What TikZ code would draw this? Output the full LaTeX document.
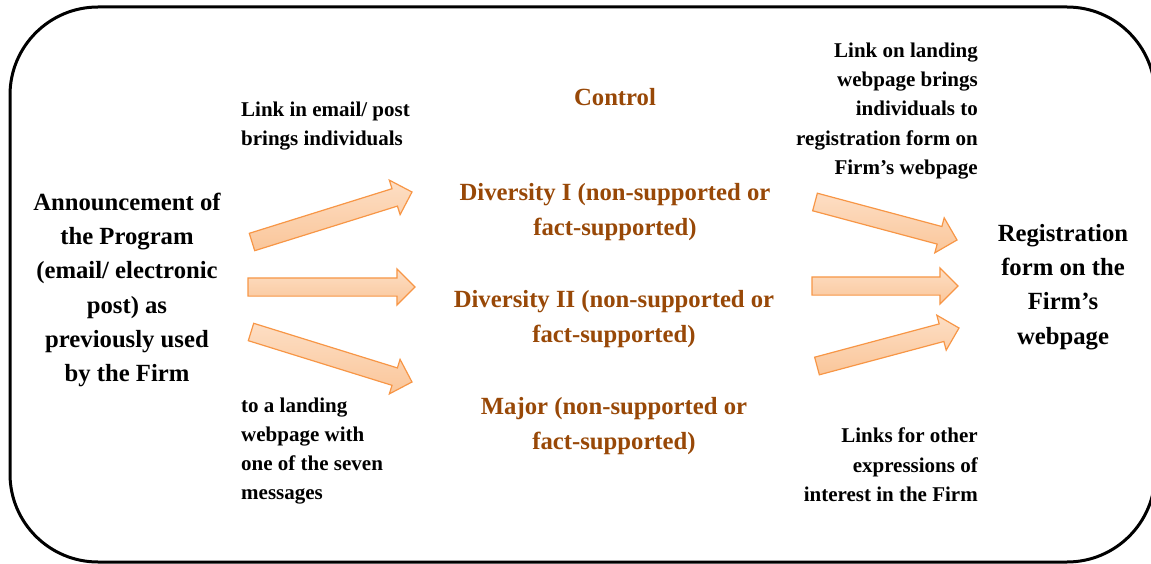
\documentclass[tikz,border=0pt]{standalone}
\usepackage{fontspec}
\setmainfont{Liberation Serif}
\usetikzlibrary{shapes.arrows,calc}

\definecolor{groupbrown}{RGB}{152,72,7}
\definecolor{arrowedge}{RGB}{247,150,70}
\definecolor{arrowtop}{RGB}{253,222,196}
\definecolor{arrowbottom}{RGB}{250,198,154}

% block arrow from one named point to another
\newcommand\blockarrow[2]{%
  \path let \p1=($(#2)-(#1)$) in (#1) -- (#2)
    node[farrow,sloped,pos=0,anchor=tail,minimum height={veclen(\x1,\y1)}] {};}

\begin{document}
\begin{tikzpicture}[x=1pt,y=-1pt,
  frame/.style={draw,line width=3pt,rounded corners=88pt},
  bigtext/.style={font=\bfseries\fontsize{24.7}{34.2}\selectfont,align=center,inner sep=0pt},
  smalltext/.style={font=\bfseries\fontsize{21}{29.3}\selectfont,inner sep=0pt},
  group/.style={bigtext,text=groupbrown},
  farrow/.style={single arrow,draw=arrowedge,line width=1.2pt,top color=arrowtop,bottom color=arrowbottom,
    text height=17pt,text depth=0pt,single arrow head extend=9pt,inner sep=0pt,outer sep=0pt}]
\useasboundingbox (0,0) rectangle (1151,564);
\draw[frame] (10,7) rectangle (1155,562);

\node[bigtext] (start) at (127,290) {Announcement of\\the Program\\(email/ electronic\\post) as\\previously used\\by the Firm};
\node[bigtext] (reg) at (1063,287) {Registration\\form on the\\Firm's\\webpage};

\node[group] (control) at (615,97) {Control};
\node[group] (div1) at (615,212) {Diversity I (non-supported or\\fact-supported)};
\node[group] (div2) at (614,319) {Diversity II (non-supported or\\fact-supported)};
\node[group] (major) at (614,426) {Major (non-supported or\\fact-supported)};

\node[smalltext,align=left,anchor=west] (note1) at (241,126) {Link in email/ post\\brings individuals};
\node[smalltext,align=left,anchor=west] (note2) at (241,451) {to a landing\\webpage with\\one of the seven\\messages};
\node[smalltext,align=right,anchor=east] (note3) at (978,111) {Link on landing\\webpage brings\\individuals to\\registration form on\\Firm's webpage};
\node[smalltext,align=right,anchor=east] (note4) at (978,465) {Links for other\\expressions of\\interest in the Firm};

% arrow ends
\coordinate (a1) at (252,242);
\coordinate (b1) at (412,192);
\coordinate (a2) at (248,287);
\coordinate (b2) at (415,287);
\coordinate (a3) at (251,332);
\coordinate (b3) at (412,382);
\coordinate (c1) at (815,202);
\coordinate (d1) at (957,240);
\coordinate (c2) at (812,286);
\coordinate (d2) at (958,286);
\coordinate (c3) at (817,366);
\coordinate (d3) at (959,328);

\blockarrow{a1}{b1}
\blockarrow{a2}{b2}
\blockarrow{a3}{b3}
\blockarrow{c1}{d1}
\blockarrow{c2}{d2}
\blockarrow{c3}{d3}
\end{tikzpicture}
\end{document}
